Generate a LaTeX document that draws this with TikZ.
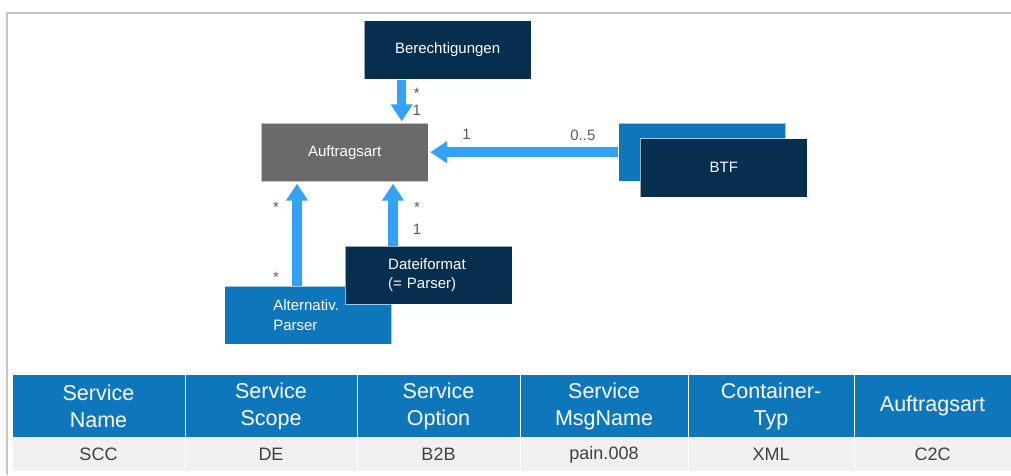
\documentclass[tikz,border=0pt]{standalone}
\usepackage{fontspec}
\setmainfont{Liberation Sans}
\usetikzlibrary{arrows.meta}
\definecolor{navy}{HTML}{062E4E}
\definecolor{midblue}{HTML}{0E77BB}
\definecolor{boxgray}{HTML}{6A6A6A}
\definecolor{skyline}{HTML}{33A2F4}
\definecolor{cellgray}{HTML}{F0F0F0}
\definecolor{frame}{HTML}{C6C6C6}
\definecolor{mgray}{HTML}{5A5A5A}
\definecolor{rowtext}{HTML}{404040}

\begin{document}
\begin{tikzpicture}[x=1pt,y=-1pt,
  box/.style={minimum width=167pt,minimum height=58.5pt,inner sep=0pt,text=white,draw=white,draw opacity=.6,line width=.8pt,font=\fontsize{15}{19.5}\selectfont},
  conn/.style={skyline,line width=9.5pt,-{Triangle[length=17pt,width=21pt]},shorten >=1.5pt},
  mult/.style={text=mgray,inner sep=0pt,font=\fontsize{15}{18}\selectfont},
  head/.style={fill=midblue,draw=white,line width=1pt,text=white,inner sep=0pt,align=center,minimum height=62.7pt,font=\fontsize{21.5}{26.7}\selectfont},
  cell/.style={fill=cellgray,draw=white,line width=1pt,text=rowtext,inner sep=0pt,minimum height=34pt,font=\fontsize{18}{20}\selectfont}]
\useasboundingbox (0,0) rectangle (1011,475);
\draw[frame,line width=1.2pt] (7,475) -- (7,13) -- (1011,13);

% classes
\node[box,fill=navy] (ber) at (447.6,50) {Berechtigungen};
\node[box,fill=boxgray] (auf) at (344.7,152.5) {Auftragsart};
\node[box,fill=midblue] (btfb) at (702,152.2) {};
\node[box,fill=navy] (btf) at (723.8,167.8) {BTF};
\node[box,fill=midblue,text width=70pt,align=left] (alt) at (308.3,315.2) {Alternativ.\\Parser};
\node[box,fill=navy,text width=81pt,align=left] (dat) at (428.7,275.2) {Dateiformat\\(= Parser)};

% associations
\draw[conn] ([xshift=-45.9pt]ber.south) -- node[mult,pos=.31,xshift=15pt] (m1) {*} node[mult,pos=.72,xshift=15pt] (m2) {1} ([xshift=-45.9pt]ber.south |- auf.north);
\draw[conn] (btfb.west) -- node[mult,pos=.186,yshift=17pt] (m3) {0..5} node[mult,pos=.80,yshift=18pt] (m4) {1} (btfb.west -| auf.east);
\draw[conn] ([xshift=-11.3pt]alt.north) -- node[mult,pos=.08,xshift=-21pt] (m5) {*} node[mult,pos=.757,xshift=-21pt] (m6) {*} ([xshift=-11.3pt]alt.north |- auf.south);
\draw[conn] ([xshift=-35.7pt]dat.north) -- node[mult,pos=.249,xshift=24pt] (m7) {1} node[mult,pos=.607,xshift=24pt] (m8) {*} ([xshift=-35.7pt]dat.north |- auf.south);

% table
\foreach \l/\r/\h/\v [count=\i] in {12/185/{Service\\Name}/SCC,185/357/{Service\\Scope}/DE,357/520/{Service\\Option}/B2B,520/688/{Service\\MsgName}/pain.008,688/854/{Container-\\Typ}/XML,854/1011/{Auftragsart}/C2C}{
  \node[head,minimum width={(\r-\l)*1pt}] (h\i) at ({(\l+\r)/2},406.3) {\h};
  \node[cell,minimum width={(\r-\l)*1pt}] (v\i) at ({(\l+\r)/2},454.7) {\v};
}
\end{tikzpicture}
\end{document}
